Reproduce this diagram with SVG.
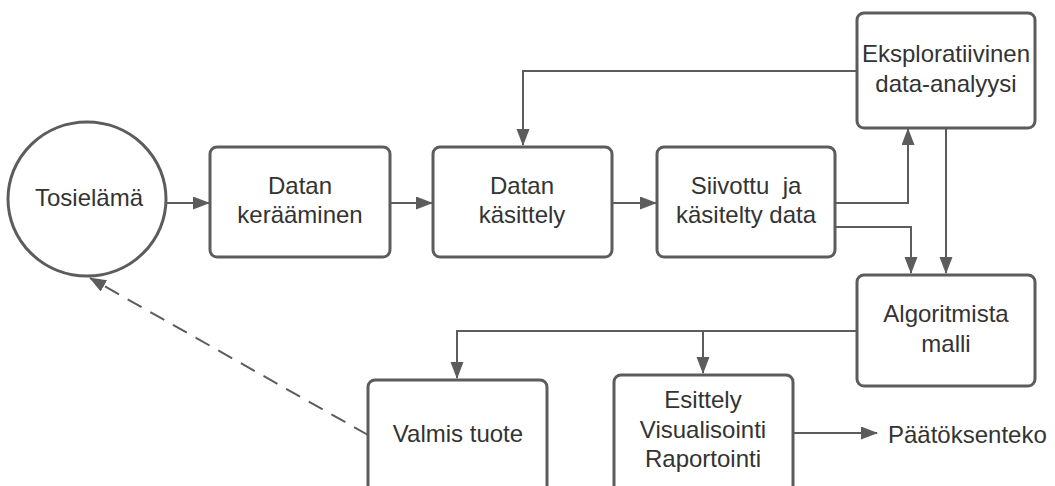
<svg xmlns="http://www.w3.org/2000/svg" width="1055" height="486" viewBox="0 0 1055 486">
<style>
.box{fill:#fff;stroke:#5c5c5c;stroke-width:3}
.lbl{font-family:"Liberation Sans",Arial,sans-serif;font-size:24px;fill:#333;text-anchor:middle}
.ln{fill:none;stroke:#5c5c5c;stroke-width:2}
.dash{stroke-dasharray:16 10}
</style>
<defs>
<marker id="ah" markerUnits="userSpaceOnUse" markerWidth="18" markerHeight="14" refX="16" refY="6.5" orient="auto">
<path d="M0,0 L17,6.5 L0,13 Z" fill="#5c5c5c"/>
</marker>
</defs>
<g id="connectors">
<path class="ln" d="M167,203 H209" marker-end="url(#ah)"/>
<path class="ln" d="M390,203 H432" marker-end="url(#ah)"/>
<path class="ln" d="M613,203 H656" marker-end="url(#ah)"/>
<path class="ln" d="M857,71 H523 V145" marker-end="url(#ah)"/>
<path class="ln" d="M835,203 H908 V129" marker-end="url(#ah)"/>
<path class="ln" d="M835,227 H911 V273" marker-end="url(#ah)"/>
<path class="ln" d="M946,129 V273" marker-end="url(#ah)"/>
<path class="ln" d="M857,331 H457 V378" marker-end="url(#ah)"/>
<path class="ln" d="M703,331 V373" marker-end="url(#ah)"/>
<path class="ln" d="M794,433 H877" marker-end="url(#ah)"/>
<path class="ln dash" d="M368,435 L90,278" marker-end="url(#ah)"/>
</g>
<g id="tosielama">
<ellipse class="box" cx="87" cy="199" rx="79" ry="77"/>
<text class="lbl" x="89" y="206">Tosielämä</text>
</g>
<g id="keraaminen">
<rect class="box" x="210" y="147" width="180" height="110" rx="7"/>
<text class="lbl" x="300" y="194">Datan</text>
<text class="lbl" x="300" y="223">kerääminen</text>
</g>
<g id="kasittely">
<rect class="box" x="433" y="147" width="179" height="110" rx="7"/>
<text class="lbl" x="522" y="194">Datan</text>
<text class="lbl" x="522" y="223">käsittely</text>
</g>
<g id="siivottu">
<rect class="box" x="657" y="147" width="178" height="110" rx="7"/>
<text class="lbl" x="746" y="194" xml:space="preserve">Siivottu  ja</text>
<text class="lbl" x="746" y="223">käsitelty data</text>
</g>
<g id="eksploratiivinen">
<rect class="box" x="857" y="13" width="178" height="115" rx="7"/>
<text class="lbl" x="946" y="62">Eksploratiivinen</text>
<text class="lbl" x="946" y="92">data-analyysi</text>
</g>
<g id="algoritmista">
<rect class="box" x="857" y="275" width="178" height="111" rx="7"/>
<text class="lbl" x="946" y="322">Algoritmista</text>
<text class="lbl" x="946" y="352">malli</text>
</g>
<g id="valmis">
<rect class="box" x="368" y="380" width="179" height="130" rx="7"/>
<text class="lbl" x="458" y="442">Valmis tuote</text>
</g>
<g id="esittely">
<rect class="box" x="614" y="375" width="179" height="135" rx="7"/>
<text class="lbl" x="703" y="408">Esittely</text>
<text class="lbl" x="703" y="438">Visualisointi</text>
<text class="lbl" x="703" y="467">Raportointi</text>
</g>
<g id="paatoksenteko">
<text class="lbl" x="888" y="443" style="text-anchor:start">Päätöksenteko</text>
</g>
</svg>
